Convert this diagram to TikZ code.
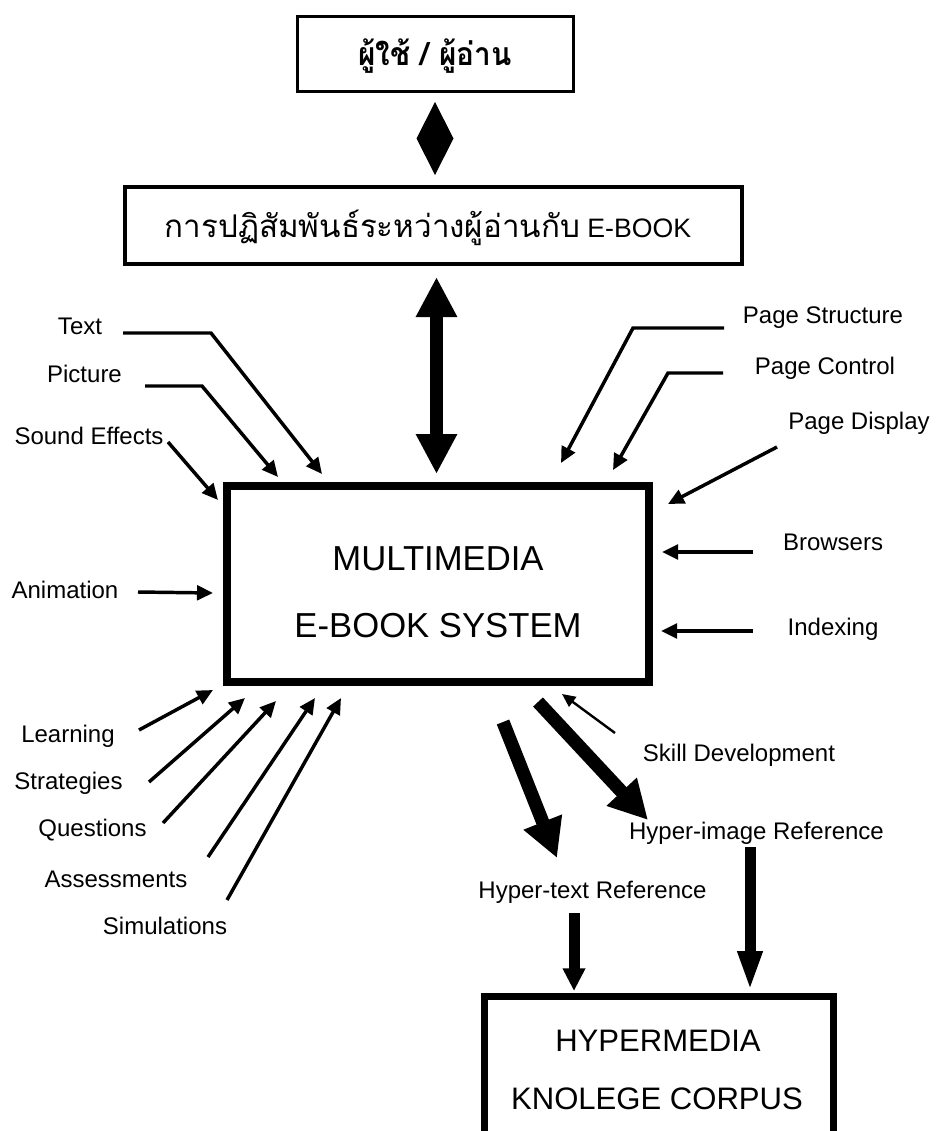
\documentclass[tikz,border=0pt]{standalone}
\usepackage{fontspec}
\setmainfont{Liberation Sans}
\newfontfamily\thaifont[Script=Thai]{Loma}
\newfontfamily\thainarrow[Script=Thai,FakeStretch=0.93]{Loma}
\usetikzlibrary{arrows.meta}
\begin{document}
\begin{tikzpicture}[x=0.75pt,y=-0.75pt,
  box/.style={draw, rectangle, inner sep=0pt},
  lbl/.style={font=\fontsize{18pt}{18pt}\selectfont, inner sep=0pt, text height=12.9pt, text depth=0pt},
  bigtxt/.style={font=\fontsize{26pt}{26pt}\selectfont, inner sep=0pt, text height=18.6pt, text depth=0pt},
  midtxt/.style={font=\fontsize{23.3pt}{23.3pt}\selectfont, inner sep=0pt, text height=16.7pt, text depth=0pt},
  feed/.style={line width=2.6pt, -{Triangle[length=12pt,width=11pt]}},
  thinfeed/.style={line width=1.8pt, -{Triangle[length=10pt,width=9pt]}},
  twoway/.style={line width=9.75pt, {Triangle[length=30pt,width=29pt]}-{Triangle[length=30pt,width=29pt]}},
  heavy/.style={line width=10pt, -{Triangle[length=29pt,width=29pt]}},
  downshort/.style={line width=8.25pt, -{Triangle[length=17pt,width=16pt]}},
  downlong/.style={line width=8.25pt, -{Triangle[length=30pt,width=17pt]}}
]
\useasboundingbox (0,0) rectangle (938,1131);

% boxes
\node[box, line width=2.25pt, minimum width=207pt, minimum height=56.25pt] (user) at (435.5,54) {};
\node[font=\thainarrow\bfseries\fontsize{24pt}{24pt}\selectfont, inner sep=0pt] (usertxt) at (435,56) {ผู้ใช้ / ผู้อ่าน};

\node[box, line width=3pt, minimum width=462.75pt, minimum height=57.75pt] (inter) at (433.5,225.5) {};
\node[font=\fontsize{20pt}{20pt}\selectfont, inner sep=0pt] (intertxt) at (428,228) {{\thaifont\fontsize{23.5pt}{23.5pt}\selectfont การปฏิสัมพันธ์ระหว่างผู้อ่านกับ} E-BOOK};

\node[box, line width=6pt, minimum width=316.5pt, minimum height=147pt] (main) at (438,584) {};
\node[bigtxt] (main1) at (438,558) {MULTIMEDIA};
\node[bigtxt] (main2) at (438,625) {E-BOOK SYSTEM};

\node[box, line width=5.25pt, minimum width=261.75pt, minimum height=103.125pt] (corpus) at (659,1065.25) {};
\node[midtxt] (corpus1) at (658,1040) {HYPERMEDIA};
\node[midtxt] (corpus2) at (657,1098) {KNOLEGE CORPUS};

% diamond between user and interaction boxes
\fill (435,102) -- (453.5,138.5) -- (435,175) -- (416.5,138.5) -- cycle;

% two-way arrow
\coordinate (tw1) at (436.5,277);
\coordinate (tw2) at (436.5,474);
\draw[twoway] (tw1) -- (tw2);

% labels
\node[lbl] (text) at (80,325.5) {Text};
\node[lbl] (picture) at (84.5,373.5) {Picture};
\node[lbl] (sound) at (89,435.5) {Sound Effects};
\node[lbl] (anim) at (65,590) {Animation};
\node[lbl] (pstruct) at (823,315) {Page Structure};
\node[lbl] (pctrl) at (825,365.5) {Page Control};
\node[lbl] (pdisp) at (859,421) {Page Display};
\node[lbl] (browse) at (833,541.5) {Browsers};
\node[lbl] (index) at (833,626.5) {Indexing};
\node[lbl] (learn) at (68,733.5) {Learning};
\node[lbl] (strat) at (68.5,781) {Strategies};
\node[lbl] (quest) at (92.5,828) {Questions};
\node[lbl] (assess) at (116,878.5) {Assessments};
\node[lbl] (simul) at (165,926) {Simulations};
\node[lbl] (skill) at (739,753) {Skill Development};
\node[lbl] (himg) at (756.5,831) {Hyper-image Reference};
\node[lbl] (htxt) at (592.5,890) {Hyper-text Reference};

% left feeds
\coordinate (textS) at (123,333);
\coordinate (textB) at (211,333);
\coordinate (textE) at (322,474);
\draw[feed] (textS) -- (textB) -- (textE);
\coordinate (picS) at (145,386);
\coordinate (picB) at (202,386);
\coordinate (picE) at (278,477);
\draw[feed] (picS) -- (picB) -- (picE);
\coordinate (soundS) at (168,442);
\coordinate (soundE) at (218,500);
\draw[feed] (soundS) -- (soundE);
\coordinate (animS) at (138,592);
\coordinate (animE) at (213,593);
\draw[feed] (animS) -- (animE);

% right feeds
\coordinate (psS) at (724,328);
\coordinate (psB) at (633,328);
\coordinate (psE) at (561,463);
\draw[feed] (psS) -- (psB) -- (psE);
\coordinate (pcS) at (723,373);
\coordinate (pcB) at (668,373);
\coordinate (pcE) at (613,470);
\draw[feed] (pcS) -- (pcB) -- (pcE);
\coordinate (pdS) at (777,447);
\coordinate (pdE) at (668,504);
\draw[feed] (pdS) -- (pdE);
\coordinate (brS) at (753,552);
\coordinate (brE) at (662,552);
\draw[feed] (brS) -- (brE);
\coordinate (ixS) at (753,631);
\coordinate (ixE) at (661,631);
\draw[feed] (ixS) -- (ixE);

% bottom-left feeds
\coordinate (lnS) at (139,730);
\coordinate (lnE) at (213,690);
\draw[feed] (lnS) -- (lnE);
\coordinate (stS) at (149,782);
\coordinate (stE) at (245,698);
\draw[feed] (stS) -- (stE);
\coordinate (quS) at (163,823);
\coordinate (quE) at (276,701);
\draw[feed] (quS) -- (quE);
\coordinate (asS) at (208,857);
\coordinate (asE) at (315,698);
\draw[feed] (asS) -- (asE);
\coordinate (siS) at (227,900);
\coordinate (siE) at (341,698);
\draw[feed] (siS) -- (siE);

% bottom-right
\coordinate (skS) at (615,733);
\coordinate (skE) at (562,694);
\draw[thinfeed] (skS) -- (skE);
\coordinate (hiS) at (538,702);
\coordinate (hiE) at (648,820);
\draw[heavy] (hiS) -- (hiE);
\coordinate (htS) at (503,722);
\coordinate (htE) at (557,858);
\draw[heavy] (htS) -- (htE);
\coordinate (dlS) at (574,913);
\coordinate (dlE) at (574,991);
\draw[downshort] (dlS) -- (dlE);
\coordinate (drS) at (750,847);
\coordinate (drE) at (750,991);
\draw[downlong] (drS) -- (drE);
\end{tikzpicture}
\end{document}
